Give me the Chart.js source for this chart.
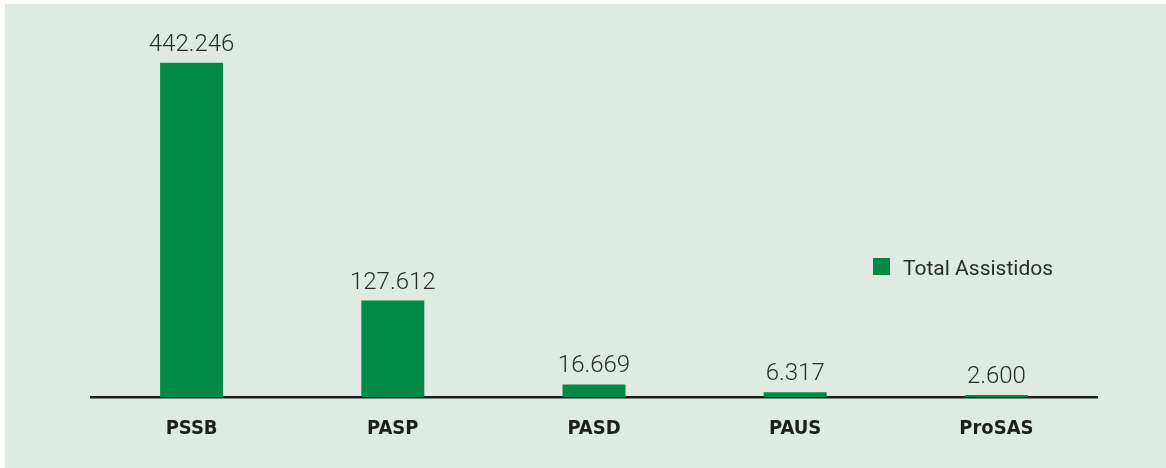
<!DOCTYPE html>
<html>
<head>
<meta charset="utf-8">
<script src="https://cdn.jsdelivr.net/npm/chart.js@4.4.1/dist/chart.umd.min.js"></script>
<style>
  html, body { margin: 0; padding: 0; background: #ffffff; }
  #wrap { position: relative; width: 1166px; height: 468px; }
</style>
</head>
<body>
<div id="wrap"><canvas id="bar-chart" width="1166" height="468"></canvas></div>
<script>
const categories = ['PSSB', 'PASP', 'PASD', 'PAUS', 'ProSAS'];
const totalAssistidos = [442246, 127612, 16669, 6317, 2600];
const seriesLabel = 'Total Assistidos';

const BG = '#dfebe2';
const GREEN = '#008a45';
const TEXT = '#2b2b2b';

const formatNum = (v) => String(v).replace(/\B(?=(\d{3})+(?!\d))/g, '.');

// light green panel, white strip on top/left
const panelBg = {
  id: 'panelBg',
  beforeDraw(chart) {
    const { ctx, width, height } = chart;
    ctx.save();
    ctx.fillStyle = '#ffffff';
    ctx.fillRect(0, 0, width, height);
    ctx.fillStyle = BG;
    ctx.fillRect(5, 4, width - 5, height - 4);
    ctx.restore();
  }
};

// value above each bar
const valueLabels = {
  id: 'valueLabels',
  afterDatasetsDraw(chart) {
    const { ctx } = chart;
    const meta = chart.getDatasetMeta(0);
    const data = chart.data.datasets[0].data;
    ctx.save();
    ctx.font = '300 24px Roboto, "Liberation Sans", sans-serif';
    ctx.fillStyle = TEXT;
    ctx.textAlign = 'center';
    ctx.textBaseline = 'alphabetic';
    meta.data.forEach((bar, i) => {
      ctx.fillText(formatNum(data[i]), bar.x, bar.y - 12);
    });
    ctx.restore();
  }
};

// legend sitting to the right, inside the plot
const sideLegend = {
  id: 'sideLegend',
  afterDraw(chart) {
    const { ctx } = chart;
    const ds = chart.data.datasets[0];
    ctx.save();
    ctx.fillStyle = ds.backgroundColor;
    ctx.fillRect(873, 258, 17, 17);
    ctx.font = '21px Roboto, "Liberation Sans", sans-serif';
    ctx.fillStyle = TEXT;
    ctx.textAlign = 'left';
    ctx.textBaseline = 'alphabetic';
    ctx.fillText(ds.label, 903, 275);
    ctx.restore();
  }
};

const ctx = document.getElementById('bar-chart').getContext('2d');
const chart = new Chart(ctx, {
  type: 'bar',
  data: {
    labels: categories,
    datasets: [
      {
        label: seriesLabel,
        data: totalAssistidos,
        backgroundColor: GREEN,
        borderWidth: 0,
        categoryPercentage: 1,
        barPercentage: 0.313,
      },
    ],
  },
  options: {
    responsive: false,
    animation: false,
    layout: {
      padding: { top: 19, left: 91, right: 69, bottom: 7 },
    },
    plugins: {
      legend: { display: false },
      tooltip: { enabled: false },
    },
    scales: {
      x: {
        grid: { display: false, drawTicks: false },
        border: { display: true, color: '#1e1e1e', width: 2.5 },
        ticks: {
          padding: 20,
          color: '#1e1e1e',
          font: { family: '"Liberation Sans Narrow", "DejaVu Sans Condensed", sans-serif', size: 20, weight: 'bold' },
        },
      },
      y: {
        display: false,
        min: 0,
        max: 500000,
      },
    },
  },
  plugins: [panelBg, valueLabels, sideLegend],
});
</script>
</body>
</html>
